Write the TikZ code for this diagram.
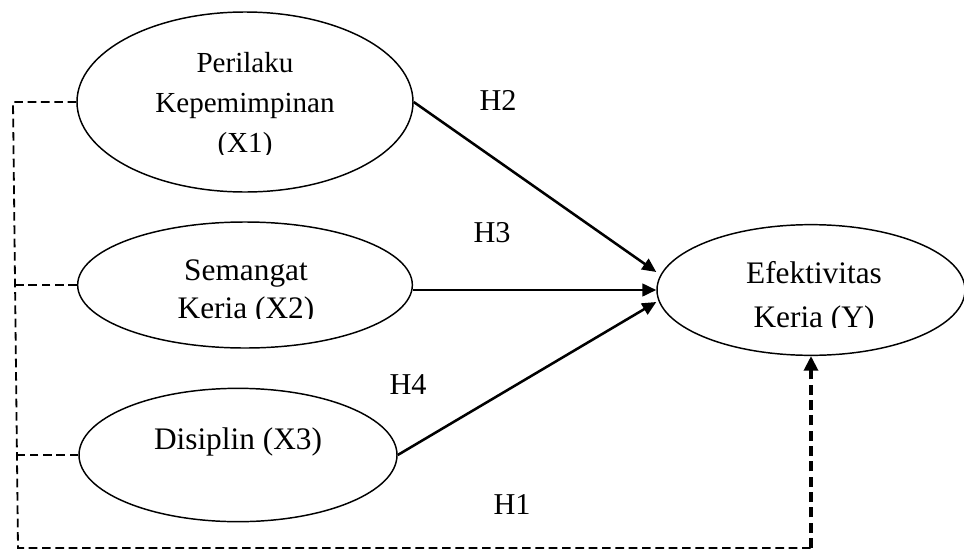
\documentclass[tikz,border=0pt]{standalone}
\usepackage{fontspec}
\setmainfont{Liberation Serif}
\usetikzlibrary{arrows.meta, shapes.geometric, positioning}

\tikzset{
  construct/.style = {draw, ellipse, line width=1.1pt, inner sep=0pt},
  txt/.style = {align=center, inner sep=0pt, font=\fontsize{23.5}{28.5}\selectfont},
  lbl/.style = {inner sep=0pt, font=\fontsize{22.7}{28}\selectfont},
  arr/.style = {line width=1.9pt, -{Triangle[length=10.5pt, width=9.5pt]}},
  dsh/.style = {line width=1.35pt, dash pattern=on 6.5pt off 3.5pt},
  dshb/.style = {line width=2.5pt, dash pattern=on 7.5pt off 4pt, -{Triangle[length=11pt, width=10.5pt]}},
}

\begin{document}
\begin{tikzpicture}[x=0.75pt, y=-0.75pt]
  \useasboundingbox (0,0) rectangle (964,550);

  % variables
  \node[construct, minimum width=252pt, minimum height=135pt] (x1) at (245,102) {};
  \node[construct, minimum width=251pt, minimum height=94.5pt] (x2) at (245,285) {};
  \node[construct, minimum width=238.5pt, minimum height=100pt] (x3) at (238,455) {};
  \node[construct, minimum width=231pt, minimum height=98pt] (y) at (811,290) {};

  % texts (cut at the bottom as in the text boxes)
  \begin{scope}
    \clip (0,0) rectangle (964,154);
    \node[txt, font=\fontsize{21.8}{30}\selectfont] (x1txt) at (245,106) {Perilaku\\Kepemimpinan\\(X1)};
  \end{scope}
  \begin{scope}
    \clip (0,200) rectangle (500,318.5);
    \node[txt] (x2txt) at (246,292) {Semangat\\Keria (X2)};
  \end{scope}
  \node[lbl, font=\fontsize{23.5}{28}\selectfont] (x3txt) at (238,442) {Disiplin (X3)};
  \begin{scope}
    \clip (600,200) rectangle (964,327.5);
    \node[txt, font=\fontsize{23.5}{33}\selectfont] (ytxt) at (814,298) {Efektivitas\\Keria (Y)};
  \end{scope}

  % hypotheses
  \node[lbl] (h2) at (498,100) {H2};
  \node[lbl] (h3) at (492,233) {H3};
  \node[lbl] (h4) at (408,385) {H4};
  \node[lbl] (h1) at (512,505) {H1};

  \draw[arr] (x1.east) -- ([yshift=13.5pt]y.west);
  \draw[arr] (y.west -| x2.east) -- (y.west);
  \draw[arr] (x3.east) -- ([yshift=-9pt]y.west);

  % simultaneous path
  \coordinate (tl) at (13,102);
  \coordinate (bl) at (18,548);
  \coordinate (br) at (y.south |- bl);
  \coordinate (j2) at (15,286);
  \coordinate (j3) at (17,452);
  \draw[dsh] (x1.west) -- (tl) -- (bl) -- (br);
  \draw[dsh] (x2.west) -- (x2.west -| j2) -- ++(-3,0);
  \draw[dsh] (x3.west) -- (x3.west -| j3) -- ++(-3,0);
  \draw[dshb] (br) -- (y.south);
\end{tikzpicture}
\end{document}
